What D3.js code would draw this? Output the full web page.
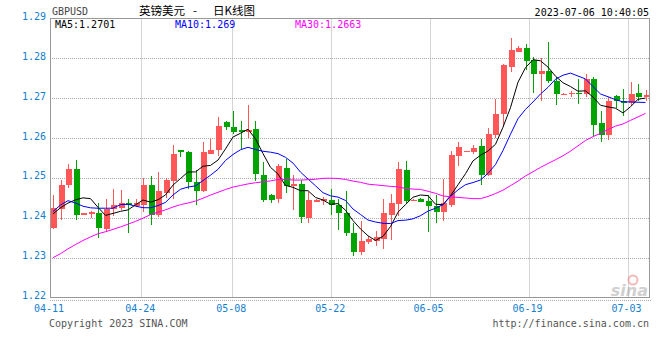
<!DOCTYPE html>
<html>
<head>
<meta charset="utf-8">
<script src="https://cdn.jsdelivr.net/npm/d3@7"></script>
<style>
  body { margin: 0; background: #fff; }
  svg { display: block; }
  text { font-family: "DejaVu Sans Mono", "Liberation Mono", monospace; }
</style>
</head>
<body>
<div id="plot"></div>
<script>
// Size of the page and plot box
var w = 660, h = 360;
var padLeft = 50, padRight = 650, padTop = 18.5, padBottom = 297.5;

// Daily GBPUSD candles (80 sessions, 04-11 .. 07-06)
var opens = [1.2374,1.2421,1.2482,1.2522,1.2409,1.2410,1.2412,1.2373,1.2422,1.2425,
             1.2437,1.2430,1.2433,1.2483,1.2408,1.2462,1.2492,1.2569,1.2566,1.2491,
             1.2467,1.2561,1.2569,1.2641,1.2628,1.2619,1.2615,1.2623,1.2508,1.2456,
             1.2446,1.2525,1.2479,1.2486,1.2399,1.2443,1.2442,1.2444,1.2432,1.2411,
             1.2363,1.2315,1.2339,1.2342,1.2347,1.2408,1.2435,1.2521,1.2443,1.2446,
             1.2443,1.2429,1.2414,1.2433,1.2554,1.2567,1.2564,1.2579,1.2508,1.2608,
             1.2660,1.2779,1.2817,1.2825,1.2796,1.2762,1.2768,1.2744,1.2710,1.2711,
             1.2714,1.2710,1.2747,1.2637,1.2608,1.2706,1.2693,1.2689,1.2712,1.2702];
var highs = [1.2457,1.2494,1.2536,1.2546,1.2412,1.2417,1.2436,1.2448,1.2472,1.2469,
             1.2446,1.2446,1.2500,1.2506,1.2514,1.2500,1.2583,1.2570,1.2568,1.2519,
             1.2590,1.2598,1.2654,1.2642,1.2669,1.2642,1.2682,1.2642,1.2539,1.2460,
             1.2534,1.2547,1.2508,1.2494,1.2465,1.2446,1.2453,1.2471,1.2446,1.2468,
             1.2388,1.2393,1.2354,1.2368,1.2446,1.2460,1.2539,1.2543,1.2446,1.2450,
             1.2456,1.2456,1.2497,1.2567,1.2590,1.2568,1.2583,1.2598,1.2625,1.2697,
             1.2786,1.2850,1.2832,1.2837,1.2804,1.2802,1.2842,1.2754,1.2712,1.2717,
             1.2747,1.2761,1.2754,1.2668,1.2704,1.2708,1.2722,1.2740,1.2736,1.2721];
var lows = [1.2373,1.2395,1.2474,1.2394,1.2408,1.2400,1.2350,1.2365,1.2404,1.2419,
            1.2362,1.2427,1.2415,1.2381,1.2402,1.2450,1.2446,1.2552,1.2473,1.2432,
            1.2465,1.2560,1.2556,1.2621,1.2611,1.2573,1.2600,1.2492,1.2440,1.2438,
            1.2438,1.2462,1.2419,1.2388,1.2388,1.2441,1.2433,1.2408,1.2369,1.2354,
            1.2303,1.2306,1.2333,1.2328,1.2321,1.2344,1.2404,1.2437,1.2442,1.2439,
            1.2365,1.2387,1.2392,1.2428,1.2531,1.2566,1.2561,1.2483,1.2504,1.2600,
            1.2629,1.2767,1.2817,1.2771,1.2712,1.2694,1.2737,1.2683,1.2709,1.2704,
            1.2686,1.2702,1.2604,1.2590,1.2596,1.2675,1.2656,1.2681,1.2692,1.2693];
var closes = [1.2425,1.2483,1.2523,1.2408,1.2411,1.2415,1.2374,1.2422,1.2433,1.2437,
              1.2433,1.2437,1.2483,1.2406,1.2467,1.2494,1.2561,1.2564,1.2489,1.2467,
              1.2566,1.2571,1.2631,1.2629,1.2616,1.2614,1.2621,1.2510,1.2444,1.2444,
              1.2529,1.2479,1.2486,1.2402,1.2444,1.2444,1.2447,1.2432,1.2411,1.2361,
              1.2314,1.2342,1.2346,1.2353,1.2412,1.2437,1.2522,1.2442,1.2445,1.2440,
              1.2429,1.2414,1.2436,1.2558,1.2577,1.2568,1.2575,1.2507,1.2611,1.2661,
              1.2783,1.2821,1.2825,1.2793,1.2762,1.2768,1.2742,1.2711,1.2711,1.2714,
              1.2710,1.2747,1.2633,1.2608,1.2693,1.2694,1.2687,1.2711,1.2702,1.2708];

// Moving average values at the first sessions (earlier closes are off the chart)
var ma5Head = [1.2410,1.2425,1.2437,1.2445];
var ma10Head = [1.2416,1.2432,1.2443,1.2437,1.2429,1.2425,1.2424,1.2424,1.2424];
var ma30Head = [1.2300,1.2310,1.2322,1.2333,1.2343,1.2352,1.2360,1.2365,1.2371,1.2377,
                1.2384,1.2391,1.2399,1.2408,1.2414,1.2420,1.2427,1.2433,1.2437,1.2442,
                1.2449,1.2457,1.2464,1.2471,1.2477,1.2481,1.2485,1.2488,1.2490];

// Axis labels
var yTicks = [1.22,1.23,1.24,1.25,1.26,1.27,1.28,1.29];
var dateLabels = ["04-11","04-24","05-08","05-22","06-05","06-19","07-03"];
var datePos = [0, 12.17, 24.3, 37.5, 50.6, 63.8, 77.0];   // position along the session axis
var legendLabels = ["MA5:1.2701","MA10:1.269","MA30:1.2663"];
var maColors = ["#000000","#0000ff","#ff00ff"];

var upColor = "#ff5757", downColor = "#00a300";
var axisColor = "#1480d0", gridColor = "#aaaaaa", frameColor = "#999999";

var svg = d3.select("#plot").append("svg")
    .attr("width", w)
    .attr("height", h);

// Scales
var xScale = d3.scaleLinear().domain([0, 80]).range([padLeft, padRight]);
var yScale = d3.scaleLinear().domain([1.22, 1.29]).range([padBottom, padTop]);
var cx = function(i) { return xScale(i + 0.4); };

// moving average: use the read head values, then average the closes
function movingAvg(n, head) {
  return closes.map(function(c, i) {
    if (i < n - 1) return head[i];
    return d3.mean(closes.slice(i - n + 1, i + 1));
  });
}
var maSeries = [movingAvg(5, ma5Head), movingAvg(10, ma10Head), movingAvg(30, ma30Head)];

// Grid
svg.append("g").selectAll("line")
    .data(yTicks.filter(function(d) { return d > 1.22 && d < 1.29; }))
    .enter().append("line")
    .attr("x1", padLeft).attr("x2", padRight)
    .attr("y1", function(d) { return Math.round(yScale(d)) + 0.5; })
    .attr("y2", function(d) { return Math.round(yScale(d)) + 0.5; })
    .attr("stroke", gridColor)
    .attr("stroke-dasharray", "1,1");

svg.append("g").selectAll("line")
    .data(datePos.slice(1))
    .enter().append("line")
    .attr("x1", function(d) { return Math.round(xScale(d)) + 0.5; })
    .attr("x2", function(d) { return Math.round(xScale(d)) + 0.5; })
    .attr("y1", padTop).attr("y2", padBottom)
    .attr("stroke", gridColor)
    .attr("stroke-dasharray", "1,1");

// Sina watermark
var wm = svg.append("g").attr("opacity", 0.55);
wm.append("circle").attr("cx", 633).attr("cy", 280).attr("r", 4.5)
    .attr("fill", "none").attr("stroke", "#f08080").attr("stroke-width", 2);
wm.append("text").attr("x", 648).attr("y", 296)
    .attr("text-anchor", "end")
    .style("font-family", "'DejaVu Sans', sans-serif")
    .style("font-size", "16px").style("font-weight", "bold").style("font-style", "italic")
    .attr("fill", "#aaaaaa")
    .text("sina");

// Candles
var candles = svg.append("g").attr("shape-rendering", "crispEdges");
var idx = d3.range(closes.length);

candles.selectAll(".wick")
    .data(idx)
    .enter().append("rect")
    .attr("class", "wick")
    .attr("x", function(i) { return Math.round(cx(i)); })
    .attr("width", 1)
    .attr("y", function(i) { return yScale(highs[i]); })
    .attr("height", function(i) { return Math.max(1, yScale(lows[i]) - yScale(highs[i])); })
    .attr("fill", function(i) { return closes[i] >= opens[i] ? upColor : downColor; });

candles.selectAll(".body")
    .data(idx)
    .enter().append("rect")
    .attr("class", "body")
    .attr("x", function(i) { return Math.round(cx(i)) - 2.5; })
    .attr("width", 6)
    .attr("y", function(i) { return yScale(Math.max(opens[i], closes[i])); })
    .attr("height", function(i) { return Math.max(1.5, Math.abs(yScale(opens[i]) - yScale(closes[i]))); })
    .attr("fill", function(i) { return closes[i] >= opens[i] ? upColor : downColor; });

// Moving average lines
var line = d3.line()
    .x(function(d, i) { return cx(i); })
    .y(function(d) { return yScale(d); });

svg.append("g").selectAll("path")
    .data(maSeries)
    .enter().append("path")
    .attr("d", line)
    .attr("fill", "none")
    .attr("stroke", function(d, k) { return maColors[k]; })
    .attr("stroke-width", 1);

// Frame
var frame = svg.append("g").attr("shape-rendering", "crispEdges")
    .attr("stroke", frameColor).attr("fill", "none");
frame.append("rect")
    .attr("x", padLeft + 0.5).attr("y", padTop)
    .attr("width", padRight - padLeft - 1).attr("height", padBottom - padTop);
frame.append("line")
    .attr("x1", padLeft).attr("x2", padRight + 1)
    .attr("y1", padBottom + 3).attr("y2", padBottom + 3)
    .attr("stroke", gridColor).attr("stroke-dasharray", "1,1");

// Y axis labels
svg.append("g").selectAll("text")
    .data(yTicks)
    .enter().append("text")
    .attr("x", padLeft - 4)
    .attr("y", function(d) { return yScale(d) + 1.5; })
    .attr("text-anchor", "end")
    .attr("fill", axisColor)
    .style("font-size", "10px")
    .text(function(d) { return d.toFixed(2); });

// X axis labels
svg.append("g").selectAll("text")
    .data(dateLabels)
    .enter().append("text")
    .attr("x", function(d, k) { return xScale(datePos[k]) - 1; })
    .attr("y", 312)
    .attr("text-anchor", "middle")
    .attr("fill", axisColor)
    .style("font-size", "10px")
    .text(function(d) { return d; });

// Legend row inside the plot
svg.append("g").selectAll("text")
    .data(legendLabels)
    .enter().append("text")
    .attr("x", function(d, k) { return padLeft + 5 + k * 120; })
    .attr("y", 28)
    .attr("fill", function(d, k) { return maColors[k]; })
    .style("font-size", "10px")
    .text(function(d) { return d; });

// Header
svg.append("text")
    .attr("x", 52).attr("y", 15)
    .attr("fill", "#444")
    .style("font-size", "10px")
    .text("GBPUSD");

var title = svg.append("text")
    .attr("y", 15)
    .attr("fill", "#000")
    .style("font-family", "'Noto Sans CJK SC', sans-serif")
    .style("font-size", "11.5px");
title.append("tspan").attr("x", 139).text("英镑美元");
title.append("tspan").attr("x", 193).text("-");
title.append("tspan").attr("x", 213).text("日K线图");

svg.append("text")
    .attr("x", 649).attr("y", 16)
    .attr("text-anchor", "end")
    .attr("fill", "#000")
    .style("font-size", "10px")
    .text("2023-07-06 10:40:05");

// Footer
svg.append("text")
    .attr("x", 49).attr("y", 327)
    .attr("fill", "#555")
    .style("font-size", "10px")
    .text("Copyright 2023 SINA.COM");

svg.append("text")
    .attr("x", 649).attr("y", 327)
    .attr("text-anchor", "end")
    .attr("fill", "#555")
    .style("font-size", "10px")
    .text("http://finance.sina.com.cn");
</script>
</body>
</html>
